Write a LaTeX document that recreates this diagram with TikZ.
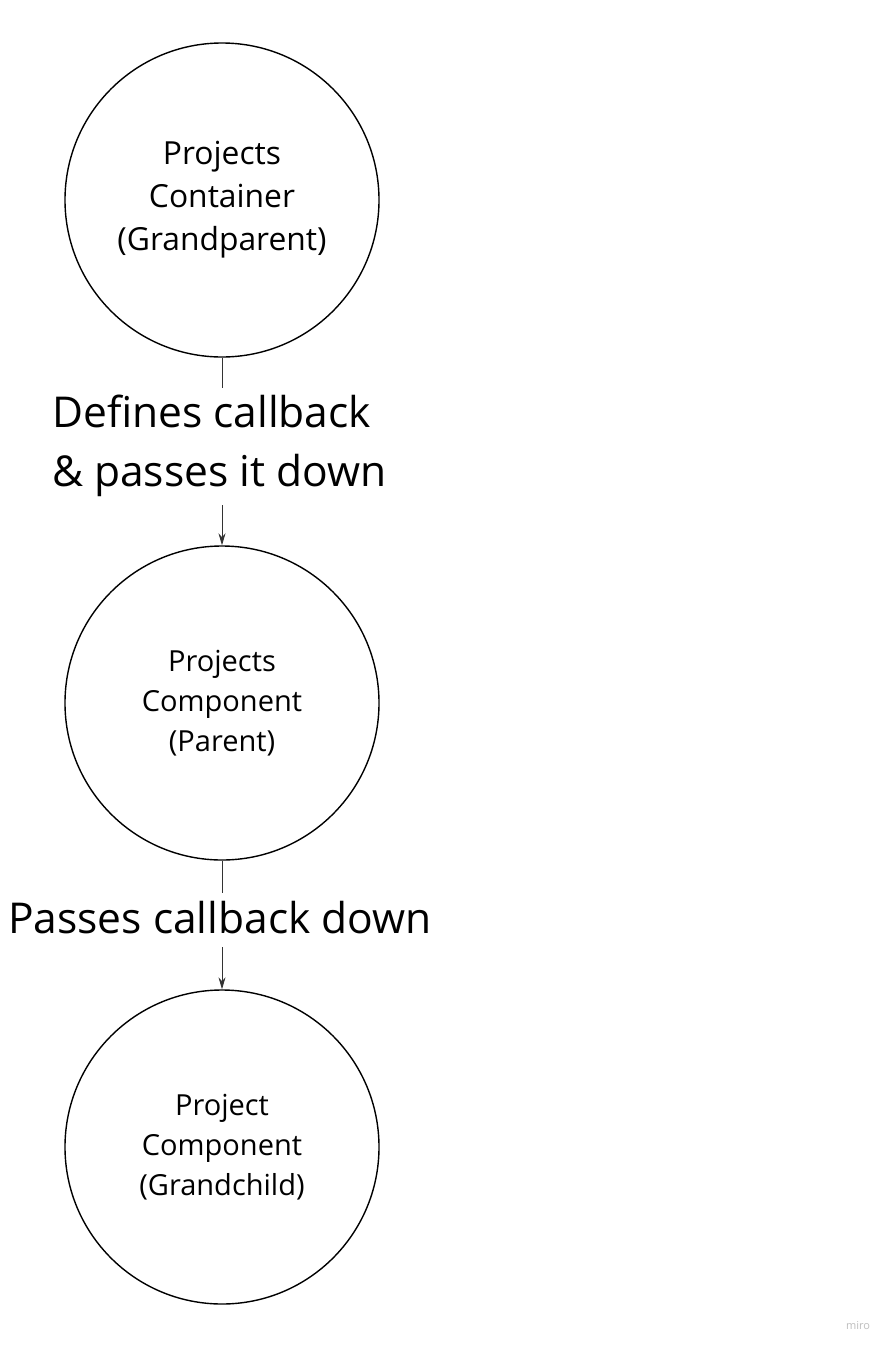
\documentclass[tikz,border=0pt]{standalone}
\usepackage{fontspec}
\setmainfont{Open Sans}
\usetikzlibrary{arrows.meta}
\begin{document}
\begin{tikzpicture}[x=1pt,y=-1pt,
  comp/.style={draw, circle, line width=1.4pt, minimum size=314pt, inner sep=0pt, align=center, font=\fontsize{29}{40}\selectfont},
  conn/.style={line width=0.9pt, draw=black!80},
  arr/.style={conn, -{Stealth[length=12pt,width=7pt]}},
  lbl/.style={align=left, font=\fontsize{42.5}{59}\selectfont}]
\useasboundingbox (0,0) rectangle (893,1350);
\fill[white] (0,0) rectangle (893,1350);
\node[comp, font=\fontsize{31.8}{43}\selectfont] (gp) at (222,200) {Projects\\Container\\(Grandparent)};
\node[comp] (p) at (222,703) {Projects\\Component\\(Parent)};
\node[comp] (c) at (222,1147) {Project\\Component\\(Grandchild)};
\coordinate (a1) at (222,388);
\coordinate (a2) at (222,505);
\coordinate (b1) at (222,893);
\coordinate (b2) at (222,947);
\draw[conn] (gp.south) -- (a1);
\draw[arr] (a2) -- (p.north);
\draw[conn] (p.south) -- (b1);
\draw[arr] (b2) -- (c.north);
\node[lbl, anchor=west, inner sep=0pt] (l1) at (52,446) {Defines callback\\\& passes it down};
\node[lbl, anchor=center, inner sep=0pt] (l2) at (220,918) {Passes callback down};
\node[text=black!25, font=\fontsize{11}{13}\selectfont, inner sep=0pt] (w) at (858,1325) {miro};
\end{tikzpicture}
\end{document}
